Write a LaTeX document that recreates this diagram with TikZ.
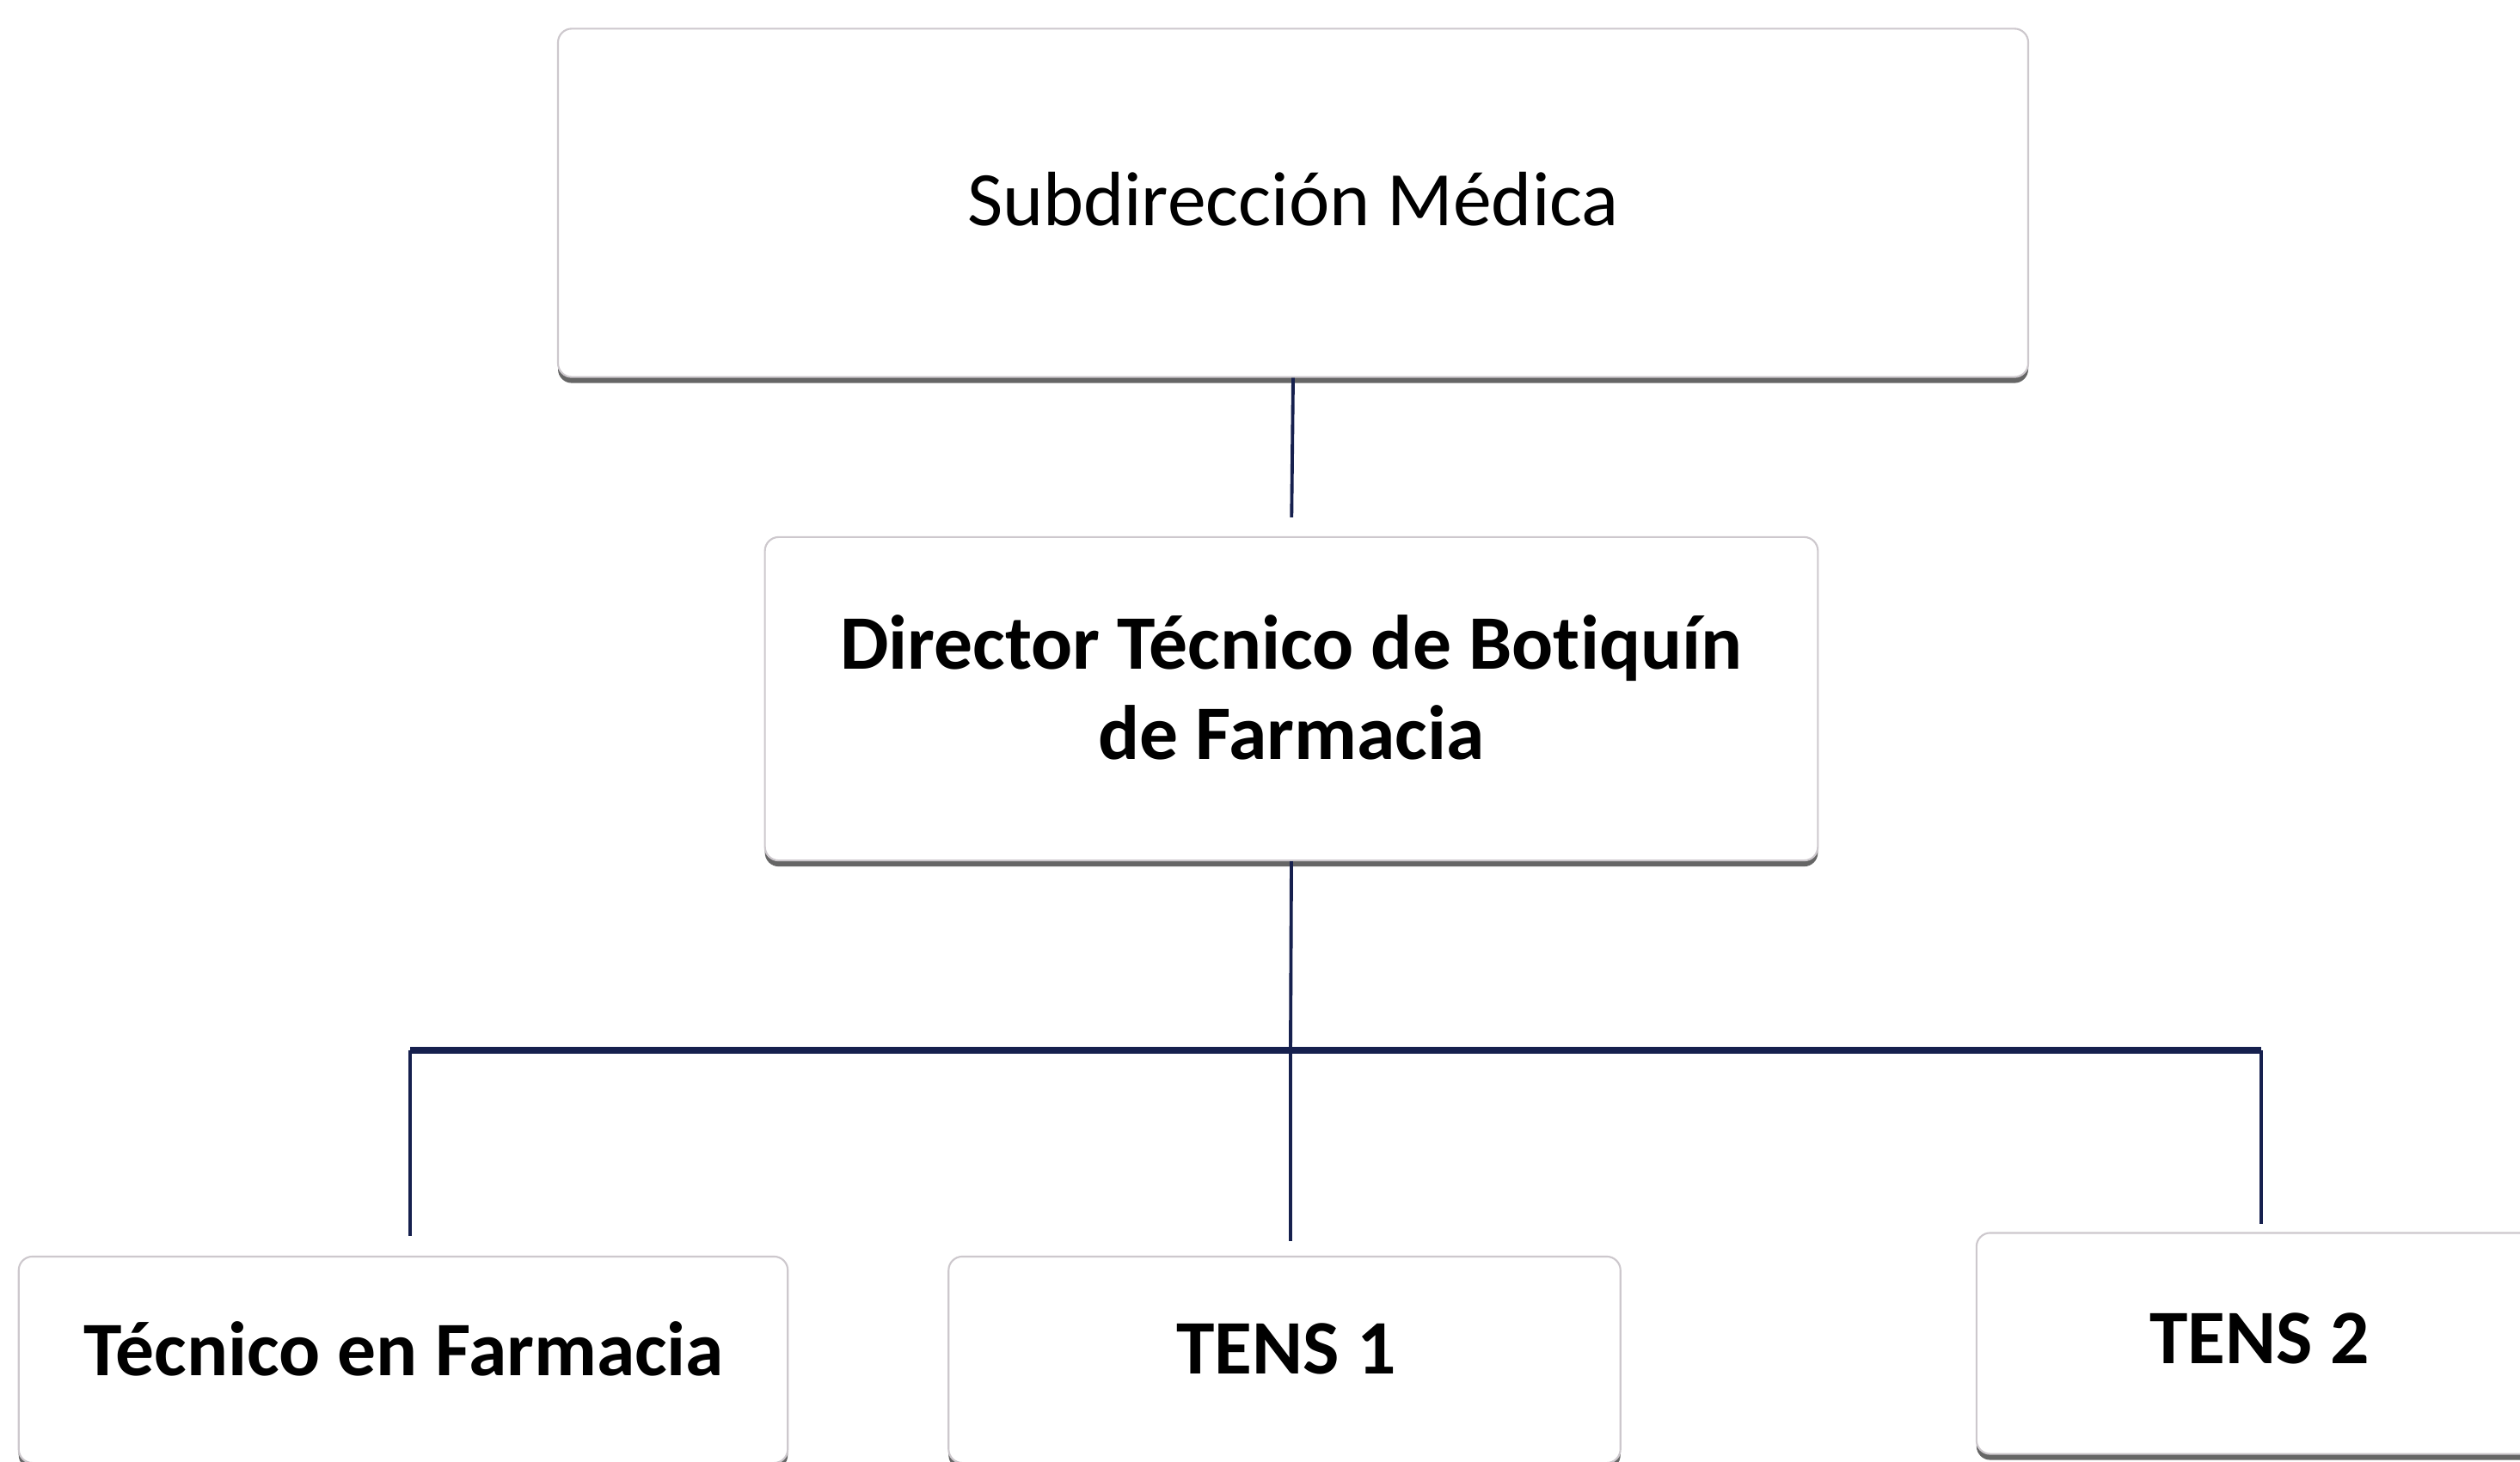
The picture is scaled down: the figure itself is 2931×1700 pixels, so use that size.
\documentclass[tikz,border=0pt]{standalone}
\usepackage{fontspec}
\setmainfont[Ligatures=NoCommon]{Carlito}
\usetikzlibrary{shadows}
\definecolor{linecol}{RGB}{22,32,78}
\definecolor{boxborder}{RGB}{205,200,205}
\begin{document}
\begin{tikzpicture}[x=0.01cm,y=-0.01cm,
  orgbox/.style={draw=boxborder, line width=0.6pt, fill=white, rounded corners=0.16cm,
    inner sep=0pt,
    drop shadow={shadow xshift=0pt, shadow yshift=-0.07cm, opacity=0.75, fill=black!80}},
  link/.style={draw=linecol, line width=1.1pt},
  bus/.style={draw=linecol, line width=2.2pt},
  lbl/.style={inner sep=0pt, align=center, font=\fontsize{25.5}{30}\selectfont},
  blbl/.style={inner sep=0pt, align=center, font=\fontsize{25.5}{30}\selectfont\bfseries}]
\fill[white] (0,0) rectangle (2931,1700);
\useasboundingbox (0,0) rectangle (2931,1700);
\clip (0,0) rectangle (2931,1700);
% boxes
\node[orgbox, minimum width=17.09cm, minimum height=4.05cm] (sub) at (1504,236) {};
\node[orgbox, minimum width=12.24cm, minimum height=3.76cm] (dir) at (1502,813) {};
\node[orgbox, minimum width=8.94cm, minimum height=2.40cm] (tec) at (469,1582) {};
\node[orgbox, minimum width=7.81cm, minimum height=2.40cm] (tens1) at (1494,1582) {};
\node[orgbox, minimum width=6.58cm, minimum height=2.57cm] (tens2) at (2628,1563) {};
% texts
\node[lbl] (subT) at (1504,232) {Subdirección Médica};
\node[blbl] (dirT) at (1502,800) {Director Técnico de Botiquín\\de Farmacia};
\node[blbl] (tecT) at (470,1569) {Técnico en Farmacia};
\node[blbl] (tens1T) at (1496,1569) {TENS 1};
\node[blbl] (tens2T) at (2628,1557) {TENS 2};
% connectors
\coordinate (busL) at (477,1222);
\coordinate (busM) at (1501,1222);
\coordinate (busR) at (2630,1222);
\draw[link, shorten >=0.22cm] (sub.south) -- (dir.north);
\draw[link] (dir.south) -- (busM);
\draw[bus] (busL) -- (busR);
\draw[link, shorten >=0.23cm] (busL) -- (busL |- tec.north);
\draw[link, shorten >=0.17cm] (busM) -- (busM |- tens1.north);
\draw[link, shorten >=0.09cm] (busR) -- (busR |- tens2.north);
\end{tikzpicture}
\end{document}
